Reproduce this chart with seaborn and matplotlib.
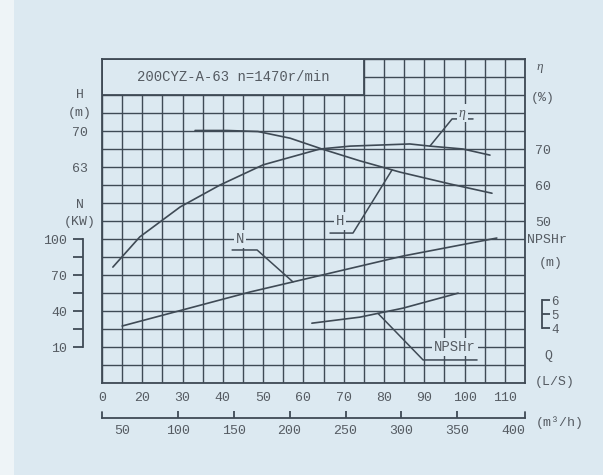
import numpy as np
import pandas as pd
import matplotlib
matplotlib.use("Agg")
import matplotlib.pyplot as plt
import seaborn as sns
from matplotlib.patches import Rectangle
from matplotlib.ticker import FixedLocator, MultipleLocator, NullFormatter

# flow Q (L/s) and the four curves
q_head = [33.1, 41.0, 48.7, 56.7, 64.6, 74.0, 84.0, 96.4, 106.8]
head = [70.1, 70.1, 69.9, 68.6, 66.5, 64.2, 62.0, 59.7, 57.9]

q_eff = [12.7, 19.4, 29.4, 39.3, 50.0, 64.1, 71.6, 79.0, 86.4, 91.4, 99.6, 106.3]
eff = [37.2, 45.6, 53.9, 60.0, 65.6, 70.0, 70.8, 71.1, 71.4, 70.8, 70.0, 68.3]

q_power = [15.0, 46.7, 84.7, 108.0]
power = [27.5, 55.8, 85.8, 100.8]

q_npsh = [62.1, 74.0, 84.7, 98.4]
npsh = [4.35, 4.78, 5.42, 6.49]

# axis ticks
q_ticks = [10, 20, 30, 40, 50, 60, 70, 80, 90, 100, 110]
q_labels = ["0", "20", "30", "40", "50", "60", "70", "80", "90", "100", "110"]
m3h_ticks = [100, 150, 200, 250, 300, 350]
m3h_end_labels = [50, 400]
head_ticks = [63, 70]
power_ticks = [10, 40, 70, 100]
power_minor = [25, 55, 85]
eff_ticks = [50, 60, 70]
npsh_ticks = [4, 5, 6]

title = "200CYZ-A-63 n=1470r/min"

BG = "#dce9f1"
LINE = "#3f4a55"
TXT = "#555b62"
MONO = ["Liberation Mono", "DejaVu Sans Mono"]

sns.set_theme(style="white", rc={"axes.facecolor": BG, "figure.facecolor": BG})
plt.rcParams["font.family"] = MONO
plt.rcParams["text.color"] = TXT
plt.rcParams["xtick.color"] = LINE
plt.rcParams["ytick.color"] = LINE
plt.rcParams["xtick.labelcolor"] = TXT
plt.rcParams["ytick.labelcolor"] = TXT

W, H = 603, 475
fig = plt.figure(figsize=(W / 100, H / 100), dpi=100)
fig.patches.append(Rectangle((0, 0), 14 / W, 1, transform=fig.transFigure,
                             fc="#eef4f7", ec="none", zorder=0))
ax = fig.add_axes([102 / W, 92 / H, 423 / W, 324 / H])

# grid: 21 columns x 18 rows
ax.set_xlim(10, 115)
ax.set_ylim(0, 18)
ax.xaxis.set_major_locator(FixedLocator(q_ticks))
ax.set_xticklabels(q_labels)
ax.xaxis.set_minor_locator(MultipleLocator(5))
ax.yaxis.set_major_locator(MultipleLocator(1))
ax.yaxis.set_major_formatter(NullFormatter())
ax.grid(which="both", color=LINE, lw=1.0)
ax.tick_params(which="both", length=0)
ax.tick_params(axis="x", labelsize=9.5, pad=6.5)
for s in ax.spines.values():
    s.set_color(LINE)
    s.set_linewidth(1.3)

# title box in the top-left corner
ax.add_patch(Rectangle((10, 16), 65, 2, fc=BG, ec=LINE, lw=1.3, zorder=2))
ax.text(42.5, 17, title, ha="center", va="center", fontsize=10, zorder=3)

# row <-> value scales of each curve (value at anchor row, value per row)
def scale_lim(val, row, per_row):
    return (val - row * per_row, val + (18 - row) * per_row)


def curve_axis(lim):
    tw = ax.twinx()
    tw.set_ylim(*lim)
    for s in tw.spines.values():
        s.set_visible(False)
    tw.grid(False)
    tw.set_ylabel("")
    return tw


ax_h = curve_axis(scale_lim(70, 14, 3.5))
ax_e = curve_axis(scale_lim(70, 13, 5))
ax_n = curve_axis(scale_lim(100, 8, 15))
ax_p = curve_axis(scale_lim(4, 3.05, 1 / 0.78))

curves = [
    (ax_h, pd.DataFrame({"Q": q_head, "v": head})),
    (ax_e, pd.DataFrame({"Q": q_eff, "v": eff})),
    (ax_n, pd.DataFrame({"Q": q_power, "v": power})),
    (ax_p, pd.DataFrame({"Q": q_npsh, "v": npsh})),
]
for a, df in curves:
    sns.lineplot(data=df, x="Q", y="v", ax=a, color=LINE, lw=1.2)
    a.set_ylabel("")
    a.set_xlabel("")
ax.set_xlabel("")

# H scale (left, labels only)
ax_h.yaxis.set_ticks_position("left")
ax_h.set_yticks(head_ticks)
ax_h.tick_params(axis="y", length=0, pad=10, labelsize=9.5)

# N scale (left bracket)
ax_n.yaxis.set_ticks_position("left")
ax_n.spines["left"].set_visible(True)
ax_n.spines["left"].set_position(("outward", 14))
ax_n.spines["left"].set_bounds(10, 100)
ax_n.spines["left"].set_color(LINE)
ax_n.spines["left"].set_linewidth(1.3)
ax_n.set_yticks(power_ticks)
ax_n.set_yticks(power_minor, minor=True)
ax_n.tick_params(axis="y", which="both", direction="out", length=7, width=1.3,
                 pad=4, labelsize=9.5)

# efficiency scale (right, labels only)
ax_e.yaxis.set_ticks_position("right")
ax_e.set_yticks(eff_ticks)
ax_e.tick_params(axis="y", length=0, pad=7, labelsize=9.5)

# NPSHr scale (right bracket)
ax_p.yaxis.set_ticks_position("right")
ax_p.spines["right"].set_visible(True)
ax_p.spines["right"].set_position(("outward", 12))
ax_p.spines["right"].set_bounds(4, 6)
ax_p.spines["right"].set_color(LINE)
ax_p.spines["right"].set_linewidth(1.3)
ax_p.set_yticks(npsh_ticks)
ax_p.tick_params(axis="y", direction="out", length=6, width=1.3, pad=1,
                 labelsize=9)

# m3/h scale under the L/s labels
sec = ax.secondary_xaxis(-35 / 324, functions=(lambda q: (q - 1) * 3.6,
                                               lambda m: m / 3.6 + 1))
sec.set_xticks(m3h_ticks)
sec.set_xticks(m3h_end_labels, labels=[str(v) for v in m3h_end_labels], minor=True)
sec.tick_params(which="major", direction="in", length=5, width=1.3, pad=5,
                labelsize=9.5)
sec.tick_params(which="minor", length=0, pad=5, labelsize=9.5)
sec.spines["bottom"].set_color(LINE)
sec.spines["bottom"].set_linewidth(1.3)
for xe in (0, 1):
    ax.plot([xe, xe], [-35 / 324, -29 / 324], transform=ax.transAxes,
            color=LINE, lw=1.3, clip_on=False)

# curve labels with leader lines (label x, label row, underline row, segment end x, target Q)
leaders = [
    ("H", ax_h, q_head, head, 69.1, 9, 8.33, 66.6, 72.3, 82.0),
    ("N", ax_n, q_power, power, 44.3, 8, 7.39, 42.3, 48.5, 57.4),
    ("η", ax_e, q_eff, eff, 99.4, 15, 14.67, 102.1, 96.9, 91.4),
    ("NPSHr", ax_p, q_npsh, npsh, 97.6, 2, 1.28, 103.1, 89.7, 78.5),
]
for name, a, qs, vs, tx, tr, ur, x_free, x_bend, q_t in leaders:
    disp = a.transData.transform((q_t, np.interp(q_t, qs, vs)))
    tq, trow = ax.transData.inverted().transform(disp)
    ax.plot([x_free, x_bend, tq], [ur, ur, trow], color=LINE, lw=1.1, zorder=3)
    kw = dict(family=["Liberation Serif", "DejaVu Serif"], style="italic") if name == "η" else {}
    ax.text(tx, tr, name, ha="center", va="center", fontsize=10, zorder=4,
            bbox=dict(boxstyle="square,pad=0.15", fc=BG, ec="none"), **kw)

# axis captions
def cap(px, py, s, **kw):
    fig.text(px / W, 1 - py / H, s, ha="center", va="center", fontsize=9.5, **kw)


cap(80, 95, "H")
cap(80, 113, "(m)")
cap(80, 205, "N")
cap(80, 222, "(KW)")
cap(540, 67, "η", family=["Liberation Serif", "DejaVu Serif"], style="italic")
cap(543, 98, "(%)")
cap(547, 240, "NPSHr")
cap(551, 263, "(m)")
cap(548, 356, "Q")
cap(555, 382, "(L/S)")
cap(560, 423, "(m³/h)")

fig.savefig("out.png", dpi=100, facecolor=BG)
